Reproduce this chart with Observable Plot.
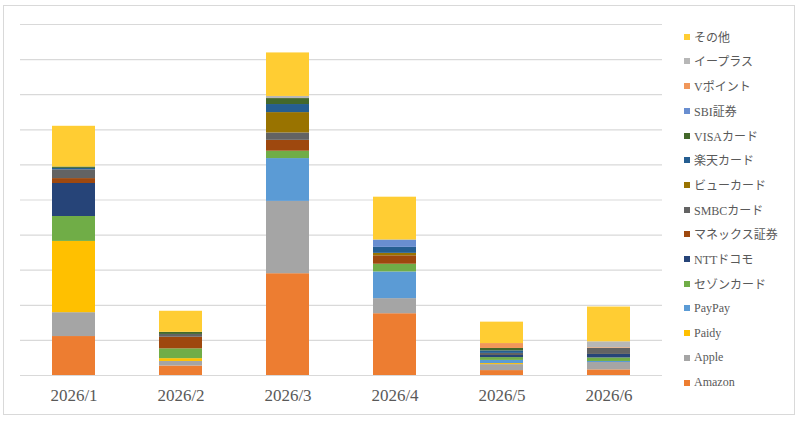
<!DOCTYPE html>
<html>
<head>
<meta charset="utf-8">
<script src="https://cdn.jsdelivr.net/npm/d3@7"></script>
<script src="https://cdn.jsdelivr.net/npm/@observablehq/plot@0.6"></script>
<style>
  html, body { margin: 0; padding: 0; background: #fff; }
  #page { position: relative; width: 800px; height: 421px; overflow: hidden; }
  #frame { position: absolute; left: 3px; top: 5px; width: 790px; height: 408px; border: 1px solid #d9d9d9; background: #fff; }
  #chart { position: absolute; left: 0; top: 0; }
  .lg { position: absolute; left: 684px; height: 16px; display: flex; align-items: center;
        font-family: "Liberation Serif", "Noto Sans CJK JP", serif; font-size: 12px; color: #595959; white-space: nowrap; }
  .lg i { display: inline-block; width: 6px; height: 6px; margin-right: 4px; }
</style>
</head>
<body>
<div id="page"><div id="frame"><div id="chart"></div></div></div>
<script>
const months = ["2026/1", "2026/2", "2026/3", "2026/4", "2026/5", "2026/6"];
const categories = ["Amazon", "Apple", "Paidy", "PayPay", "セゾンカード", "NTTドコモ", "マネックス証券", "SMBCカード", "ビューカード", "楽天カード", "VISAカード", "SBI証券", "Vポイント", "イープラス", "その他"];
const colors = ["#ED7D31", "#A5A5A5", "#FFC000", "#5B9BD5", "#70AD47", "#264478", "#9E480E", "#636363", "#997300", "#255E91", "#43682B", "#698ED0", "#F1975A", "#B7B7B7", "#FFCD33"];

const amazon  = [11100, 2700, 29000, 17600, 1400, 1600];
const apple   = [6800, 1300, 20600, 4300, 1700, 2100];
const paidy   = [20300, 800, 0, 0, 300, 0];
const paypay  = [0, 0, 12200, 7600, 900, 300];
const saison  = [7100, 2800, 2100, 2200, 800, 1000];
const docomo  = [9400, 0, 0, 0, 600, 1000];
const monex   = [1400, 3300, 3100, 2400, 0, 0];
const smbc    = [2500, 800, 2100, 0, 600, 1700];
const view    = [0, 0, 5800, 700, 0, 0];
const rakuten = [400, 0, 2300, 1700, 700, 0];
const visa    = [400, 600, 1700, 0, 700, 0];
const sbi     = [0, 0, 0, 2100, 0, 0];
const vpoint  = [0, 0, 0, 0, 1400, 200];
const eplus   = [0, 0, 600, 0, 0, 1700];
const other   = [11600, 6000, 12400, 12200, 6100, 9900];

const yTicks = [0, 10000, 20000, 30000, 40000, 50000, 60000, 70000, 80000, 90000, 100000];

const series = [amazon, apple, paidy, paypay, saison, docomo, monex, smbc, view, rakuten, visa, sbi, vpoint, eplus, other];
const data = [];
categories.forEach((c, i) => {
  months.forEach((m, j) => {
    if (series[i][j] > 0) data.push({ month: m, category: c, value: series[i][j] });
  });
});

const chart = Plot.plot({
  width: 660,
  height: 404,
  marginLeft: 16,
  marginRight: 2,
  marginTop: 18,
  marginBottom: 35,
  style: { fontFamily: '"Liberation Serif", "Noto Sans CJK JP", serif', background: "transparent", color: "#595959" },
  x: { domain: months, paddingInner: 0.6, paddingOuter: 0.3, label: null },
  y: { domain: [0, 100000], axis: null },
  color: { domain: categories, range: colors },
  marks: [
    Plot.gridY(yTicks, { stroke: "#d9d9d9", strokeOpacity: 1, strokeWidth: 1.2 }),
    Plot.barY(data, { x: "month", y: "value", fill: "category", order: categories }),
    Plot.axisX({ tickSize: 0, tickPadding: 13, fontSize: 17, fill: "#595959", label: null })
  ]
});
document.getElementById("chart").appendChild(chart);

// legend (reverse order, top = その他)
const page = document.getElementById("page");
const rev = categories.slice().reverse();
const revColors = colors.slice().reverse();
rev.forEach((c, i) => {
  const d = document.createElement("div");
  d.className = "lg";
  d.style.top = (36.7 + i * 24.7 - 8) + "px";
  const sw = document.createElement("i");
  sw.style.background = revColors[i];
  d.appendChild(sw);
  d.appendChild(document.createTextNode(c));
  page.appendChild(d);
});
</script>
</body>
</html>
